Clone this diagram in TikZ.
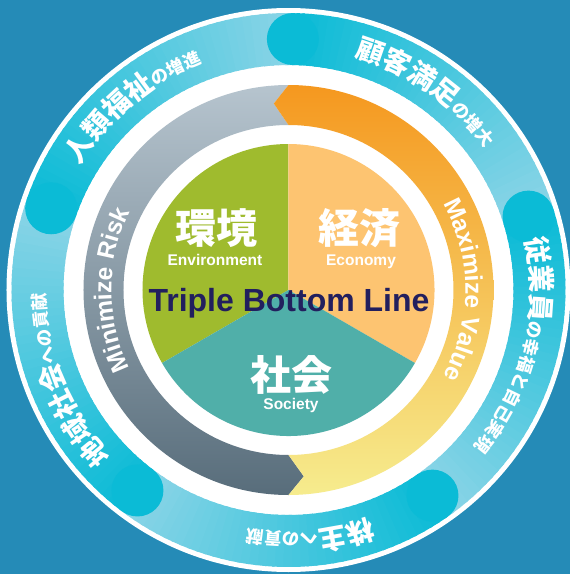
\documentclass[tikz,border=0pt]{standalone}
\usepackage{fontspec}
\setmainfont{Liberation Sans}
\newfontfamily\jpfont{Noto Sans CJK JP}
\usetikzlibrary{decorations.text}

\definecolor{bgblue}{HTML}{258BB7}
\definecolor{ringdark}{HTML}{0BBBD6}
\definecolor{ringlight}{HTML}{8ED5E7}
\definecolor{risktop}{HTML}{B6C4CE}
\definecolor{riskbot}{HTML}{586D7B}
\definecolor{valtop}{HTML}{F5981F}
\definecolor{valmid}{HTML}{F6B240}
\definecolor{valbot}{HTML}{F6EC8E}
\definecolor{envgreen}{HTML}{9FBB2E}
\definecolor{ecoorange}{HTML}{FDC471}
\definecolor{socteal}{HTML}{50AFA9}
\definecolor{tblnavy}{HTML}{221F5E}

\newcommand\jpbig{\jpfont\bfseries\fontsize{27.5}{27.5}\selectfont}
\newcommand\jpsmall{\jpfont\bfseries\fontsize{17.5}{17.5}\selectfont}
\newcommand\arrowfont{\bfseries\fontsize{24.5}{24.5}\selectfont}

\tikzset{
  ringtext/.style={decorate, decoration={text along path, text align=center, text color=white, text={#1}}},
  jpname/.style={text=white, inner sep=0pt, font=\jpfont\bfseries\fontsize{41}{41}\selectfont},
  enname/.style={text=white, inner sep=0pt, anchor=base, font=\bfseries\fontsize{15.5}{15.5}\selectfont},
}

\begin{document}
\begin{tikzpicture}[x=1pt, y=1pt]
  \useasboundingbox (-288.5,-284) rectangle (281.5,290);
  \fill[bgblue] (-288.5,-284) rectangle (281.5,290);
  \fill[white] (0,0) circle (282);

  % outer ring: five pieces, dark at the rounded end, fading clockwise
  \foreach \s/\e in {89/17, 17/-55, -55/-127, 233/161, 161/89} {
    \foreach \i in {0,...,39} {
      \pgfmathsetmacro\a{\s+((\e)-(\s))*\i/40}
      \pgfmathsetmacro\b{\s+((\e)-(\s))*(\i+1.4)/40}
      \pgfmathsetmacro\m{100-2.5*\i}
      \draw[line width=52, ringdark!\m!ringlight] (\a:251) arc[start angle=\a, end angle=\b, radius=251];
    }
  }
  \foreach \s in {89, 17, -55, 233, 161}
    \fill[ringdark] (\s:251) circle (26);

  % the two arrows
  \shade[top color=risktop, bottom color=riskbot]
    (90:205) arc[start angle=90, end angle=270, radius=205] -- (274.7:187)
    -- (270:165) arc[start angle=270, end angle=90, radius=165] -- (94.5:187) -- cycle;
  \shade[top color=valtop, middle color=valmid, bottom color=valbot]
    (-90:205) arc[start angle=-90, end angle=90, radius=205] -- (94.5:187)
    -- (90:165) arc[start angle=90, end angle=-90, radius=165] -- (-85.3:187) -- cycle;

  % pie
  \fill[envgreen] (0,0) -- (90:146) arc[start angle=90, end angle=210, radius=146] -- cycle;
  \fill[ecoorange] (0,0) -- (-30:146) arc[start angle=-30, end angle=90, radius=146] -- cycle;
  \fill[socteal] (0,0) -- (210:146) arc[start angle=210, end angle=330, radius=146] -- cycle;

  \node[jpname] (envJp) at (-71.5,62) {環境};
  \node[enname] (envEn) at (-73.5,24.4) {Environment};
  \node[jpname] (ecoJp) at (71.5,62) {経済};
  \node[enname] (ecoEn) at (72.5,24.4) {Economy};
  \node[jpname] (socJp) at (3.5,-85) {社会};
  \node[enname] (socEn) at (2.5,-119.6) {Society};
  \node[text=tblnavy, inner sep=0pt, anchor=base, font=\bfseries\fontsize{32}{32}\selectfont]
    (tbl) at (0.5,-21.5) {Triple Bottom Line};

  % texts on the arrows
  \path[ringtext={|\arrowfont|Maximize Value}] (60:177) arc[start angle=60, end angle=-60, radius=177];
  \path[ringtext={|\arrowfont|Minimize Risk}] (240:177) arc[start angle=240, end angle=120, radius=177];

  % texts on the outer ring
  \path[ringtext={|\jpbig|人類福祉|\jpsmall|の増進}] (200:242.5) arc[start angle=200, end angle=60, radius=242.5];
  \path[ringtext={|\jpbig|顧客満足|\jpsmall|の増大}] (125:242.5) arc[start angle=125, end angle=-15, radius=242.5];
  \path[ringtext={|\jpbig|従業員|\jpsmall|の幸福と自己実現}] (56:242.5) arc[start angle=56, end angle=-84, radius=242.5];
  \path[ringtext={|\jpbig|株主|\jpsmall|への貢献}] (-15:242.5) arc[start angle=-15, end angle=-155, radius=242.5];
  \path[ringtext={|\jpbig|地域社会|\jpsmall|への貢献}] (272:242.5) arc[start angle=272, end angle=132, radius=242.5];
\end{tikzpicture}
\end{document}
